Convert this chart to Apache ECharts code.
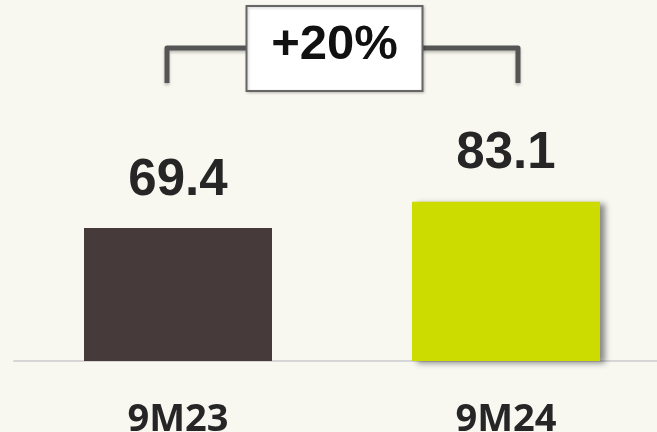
<!DOCTYPE html>
<html><head><meta charset="utf-8">
<script src="https://cdn.jsdelivr.net/npm/echarts@6/dist/echarts.min.js"></script>
<style>html,body{margin:0;padding:0;background:#f8f8f1}#c{width:657px;height:432px}</style>
</head><body><div id="c"></div>
<script>
const categories = ['9M23', '9M24'];
const values = [69.4, 83.1];
const barColors = ['#473a3a', '#cddc00'];
const growthPct = Math.round((values[1] / values[0] - 1) * 100);
const growthLabel = '+' + growthPct + '%';

const chart = echarts.init(document.getElementById('c'), null, {renderer: 'canvas'});
const option = {
  backgroundColor: '#f8f8f1',
  animation: false,
  grid: {left: 14, width: 656, top: 169.4, bottom: 71, containLabel: false, outerBoundsMode: 'none'},
  xAxis: {
    type: 'category',
    data: categories,
    axisTick: {show: false},
    axisLine: {show: true, lineStyle: {color: '#d6d6d6', width: 2}},
    axisLabel: {
      margin: 40,
      fontSize: 38,
      fontWeight: 'bold',
      fontFamily: 'Open Sans',
      color: '#262626'
    }
  },
  yAxis: {type: 'value', min: 0, max: 100, show: false, splitLine: {show: false}},
  series: [{
    type: 'bar',
    barWidth: 188,
    data: values.map((v, i) => ({
      value: v,
      itemStyle: i === 1 ? {
        color: barColors[i],
        shadowColor: 'rgba(0,0,0,0.45)',
        shadowBlur: 6,
        shadowOffsetX: 5,
        shadowOffsetY: 2
      } : {color: barColors[i]}
    })),
    label: {
      show: true,
      position: 'top',
      distance: 22,
      fontSize: 51,
      fontWeight: 'bold',
      fontFamily: 'Liberation Sans',
      color: '#262626'
    }
  }]
};
chart.setOption(option);

const x0 = chart.convertToPixel({xAxisIndex: 0}, categories[0]);
const x1 = chart.convertToPixel({xAxisIndex: 0}, categories[1]);
const bl = x0 - 11, br = x1 + 12;
const mid = (bl + br) / 2;
const boxL = mid - 96, boxW = 176, boxT = 6, boxH = 85;
const hy = 48, vy = 83;
const lineStyle = {fill: null, stroke: '#555', lineWidth: 5, lineJoin: 'round', lineCap: 'butt',
  shadowColor: 'rgba(0,0,0,0.25)', shadowBlur: 3, shadowOffsetY: 2};
chart.setOption({
  graphic: [
    {
      type: 'polyline',
      shape: {points: [[bl, vy], [bl, hy], [boxL, hy]]},
      style: lineStyle
    },
    {
      type: 'polyline',
      shape: {points: [[boxL + boxW, hy], [br, hy], [br, vy]]},
      style: lineStyle
    },
    {
      type: 'rect',
      shape: {x: boxL, y: boxT, width: boxW, height: boxH},
      style: {fill: '#ffffff', stroke: '#666', lineWidth: 2, shadowColor: 'rgba(0,0,0,0.2)', shadowBlur: 3, shadowOffsetX: 1, shadowOffsetY: 1}
    },
    {
      type: 'text',
      x: boxL + boxW / 2,
      y: boxT + boxH / 2 - 3,
      style: {
        text: growthLabel,
        align: 'center',
        verticalAlign: 'middle',
        fontSize: 49,
        fontWeight: 'bold',
        fontFamily: 'Liberation Sans',
        fill: '#111111'
      }
    }
  ]
});
</script>
</body></html>
